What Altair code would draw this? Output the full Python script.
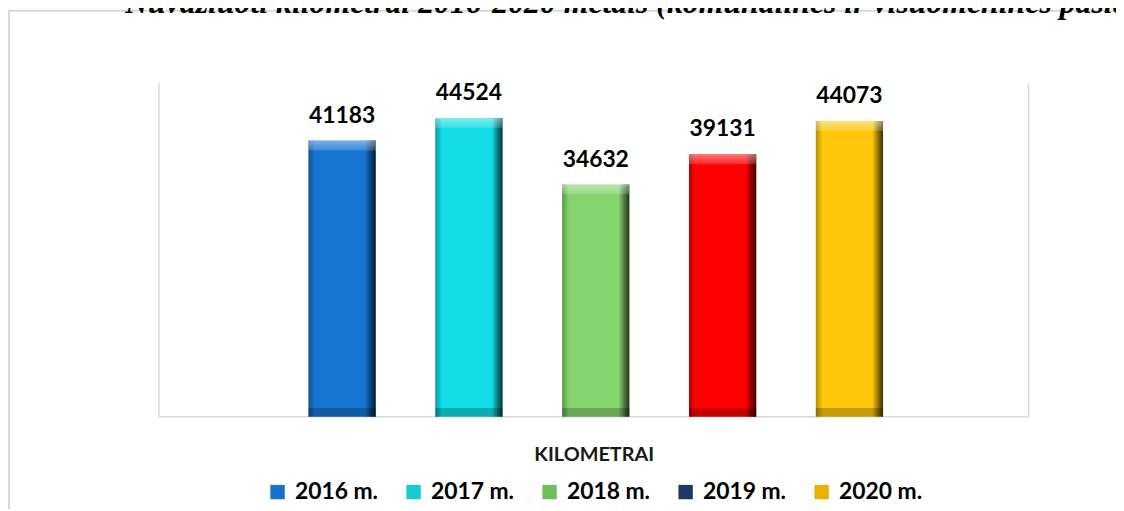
import altair as alt
import pandas as pd

# ---- data ----
years = ["2016 m.", "2017 m.", "2018 m.", "2019 m.", "2020 m."]
values = [41183, 44524, 34632, 39131, 44073]
bar_colors = ["#1675D1", "#12DCE5", "#86D46E", "#FE0000", "#FFC70A"]
legend_colors = ["#1772CF", "#17C9D1", "#6FBE5C", "#1D3A66", "#E8B202"]
category = "KILOMETRAI"
title_text = "Nuvažiuoti kilometrai 2016-2020 metais (komunalinės ir visuomeninės paslaugos)"

df = pd.DataFrame({"year": years, "value": values})
one = pd.DataFrame({"k": [0]})

W, H = 876, 338
PAD = {"left": 152, "top": 72, "right": 88, "bottom": 93}
FRAME = "#D9D9D9"

x_enc = alt.X(
    "year:N",
    sort=years,
    scale=alt.Scale(range=[120.6, 759.4], paddingInner=0.47, paddingOuter=0.235),
    axis=alt.Axis(
        title=category, labels=False, ticks=False, domain=False,
        titleFont="Lato", titleFontSize=20, titleFontWeight="bold",
        titleColor="#1A1A1A", titlePadding=28, titleX=W / 2,
    ),
)
y_enc = alt.Y("value:Q", scale=alt.Scale(domain=[0, 50000]), axis=None)

base = alt.Chart(df)

bars = base.mark_bar().encode(
    x=x_enc, y=y_enc,
    color=alt.Color("year:N", sort=years,
                    scale=alt.Scale(domain=years, range=bar_colors), legend=None),
)

side_shade = base.mark_bar(
    fill=alt.LinearGradient(
        gradient="linear", x1=0, x2=1, y1=0, y2=0,
        stops=[
            alt.GradientStop(color="rgba(0,0,0,0.30)", offset=0),
            alt.GradientStop(color="rgba(0,0,0,0.0)", offset=0.10),
            alt.GradientStop(color="rgba(0,0,0,0.0)", offset=0.84),
            alt.GradientStop(color="rgba(0,0,0,0.45)", offset=0.93),
            alt.GradientStop(color="rgba(0,0,0,0.75)", offset=1),
        ],
    )
).encode(x=alt.X("year:N", sort=years), y="value:Q")

top_light = base.mark_bar(
    y2Offset=10,
    fill=alt.LinearGradient(
        gradient="linear", x1=0, x2=0, y1=0, y2=1,
        stops=[
            alt.GradientStop(color="rgba(255,255,255,0.45)", offset=0),
            alt.GradientStop(color="rgba(255,255,255,0.15)", offset=1),
        ],
    ),
).encode(x=alt.X("year:N", sort=years), y="value:Q", y2="value")

bottom_dark = base.mark_bar(yOffset=-9, fill="rgba(0,0,0,0.22)").encode(
    x=alt.X("year:N", sort=years), y=alt.datum(0), y2=alt.datum(0)
)

labels = base.mark_text(
    dy=-18, baseline="alphabetic", align="center",
    font="Lato", fontSize=23, fontWeight="bold", color="#000000",
).encode(x=alt.X("year:N", sort=years), y="value:Q", text="value:Q")

legend_layer = base.mark_square(opacity=0).encode(
    x=alt.X("year:N", sort=years),
    y="value:Q",
    color=alt.Color(
        "year:N", sort=years,
        scale=alt.Scale(domain=years, range=legend_colors),
        legend=alt.Legend(
            title=None, orient="none", legendX=108, legendY=402,
            direction="horizontal", symbolType="square", symbolSize=210,
            symbolStrokeWidth=0, symbolOpacity=1,
            labelFont="Lato", labelFontSize=23, labelFontWeight="bold",
            labelColor="#000000", labelOffset=6, columnPadding=24,
            labelLimit=300,
        ),
    ),
)

# plot-area frame (left, right, bottom) and outer chart frame (left, top)
left_line = alt.Chart(one).mark_rule(color=FRAME, strokeWidth=1.5).encode(
    x=alt.value(0), y=alt.value(2), y2=alt.value(H))
right_line = alt.Chart(one).mark_rule(color=FRAME, strokeWidth=1.5).encode(
    x=alt.value(W), y=alt.value(2), y2=alt.value(H))
bottom_line = alt.Chart(one).mark_rule(color=FRAME, strokeWidth=1.5).encode(
    x=alt.value(0), x2=alt.value(W), y=alt.value(H))
outer_left = alt.Chart(one).mark_rule(color=FRAME, strokeWidth=2).encode(
    x=alt.value(-PAD["left"] + 1), y=alt.value(-PAD["top"]), y2=alt.value(H + PAD["bottom"]))
outer_top = alt.Chart(one).mark_rule(color=FRAME, strokeWidth=2).encode(
    x=alt.value(-PAD["left"]), x2=alt.value(W + PAD["right"]), y=alt.value(-PAD["top"] + 1))

title = alt.Chart(one).mark_text(
    align="left", baseline="alphabetic",
    font="Liberation Serif", fontSize=32, fontStyle="italic", fontWeight="bold",
    color="#000000",
).encode(x=alt.value(-34), y=alt.value(-PAD["top"] + 3), text=alt.value(title_text))

chart = alt.layer(
    outer_left, outer_top, left_line, right_line, bottom_line,
    bars, side_shade, top_light, bottom_dark, labels, legend_layer, title,
).resolve_scale(color="independent").resolve_legend(color="independent").properties(
    width=W, height=H,
    autosize=alt.AutoSizeParams(type="none"),
    padding=PAD,
    background="#FFFFFF",
).configure_view(stroke=None)

chart.save("out.html", embed_options={"renderer": "svg", "actions": False})
